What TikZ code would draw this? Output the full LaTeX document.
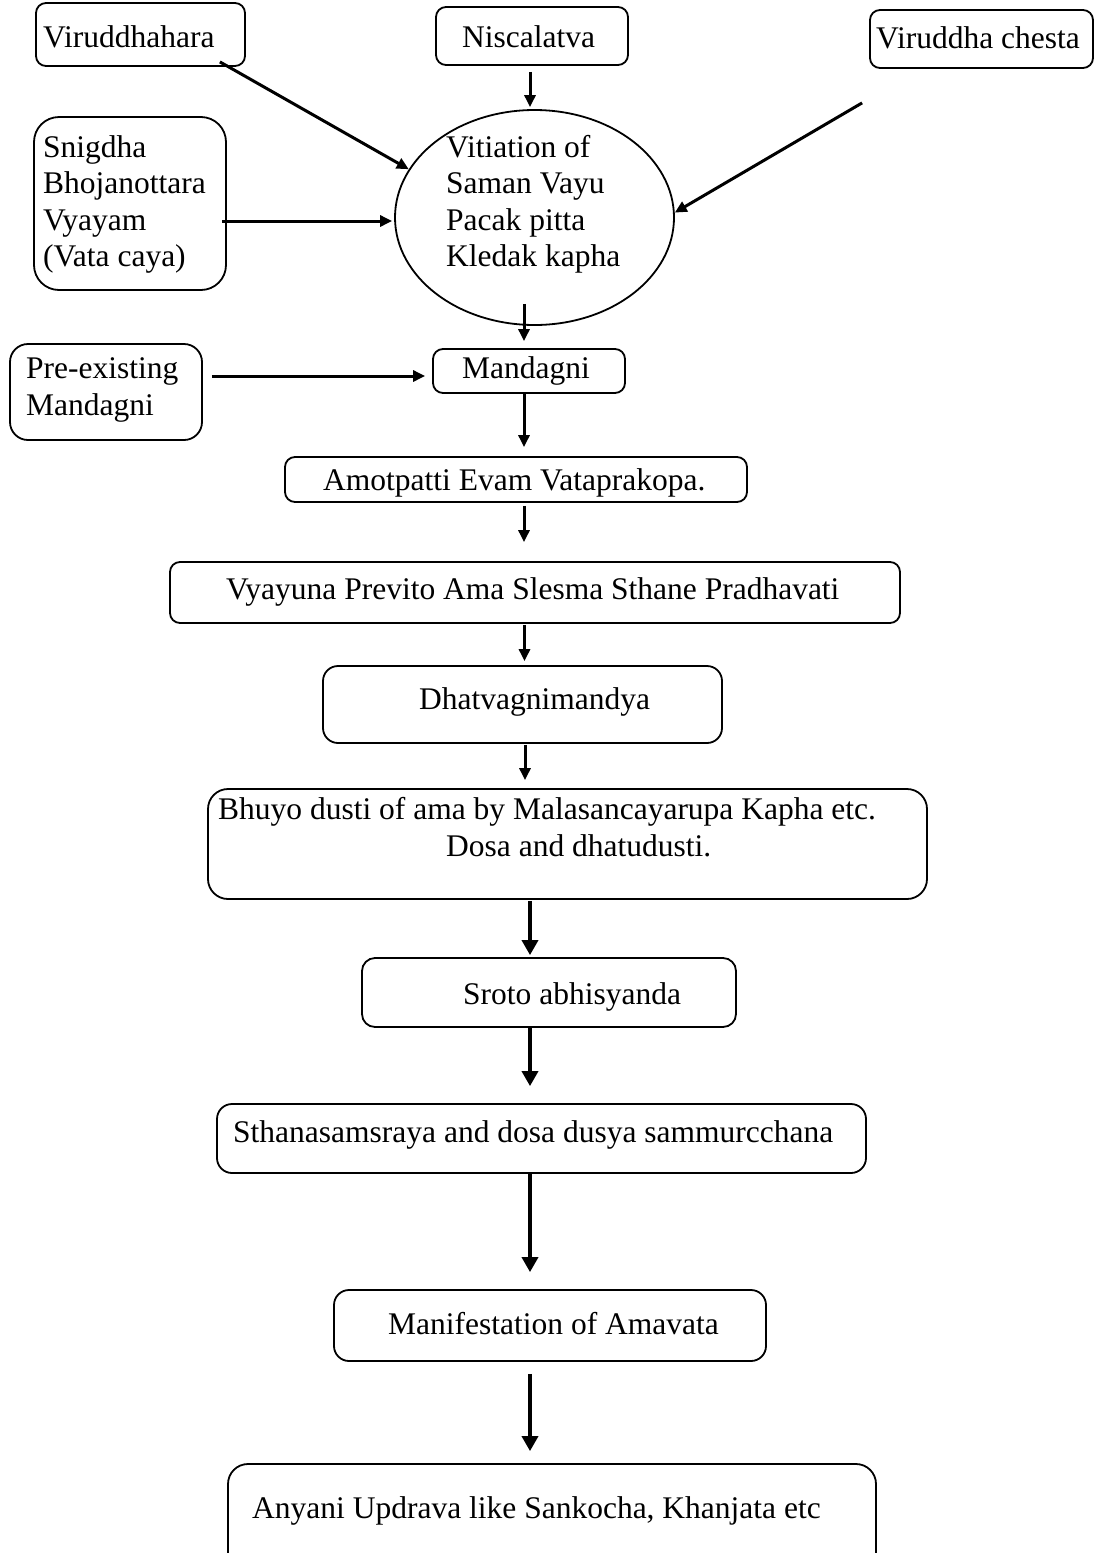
\documentclass[tikz,border=0pt]{standalone}
\usepackage{fontspec}
\setmainfont{Liberation Serif}
\usetikzlibrary{arrows.meta,shapes.geometric}
\begin{document}
\begin{tikzpicture}[x=1pt,y=-1pt,
  box/.style={draw,line width=1.8pt,rounded corners=10pt,inner sep=0pt},
  txt/.style={inner sep=0pt,anchor=base west,font=\fontsize{31.5}{37}\selectfont},
  arr/.style={line width=3pt,-{Triangle[length=12pt,width=11pt]}},
  bigarr/.style={line width=3.5pt,-{Triangle[length=15pt,width=16pt]}}]
\useasboundingbox (0,0) rectangle (1094,1553);
\clip (0,0) rectangle (1094,1553);
% boxes
\node[box,minimum width=209pt,minimum height=63pt] (vir) at (140.5,34.5) {};
\node[box,minimum width=192pt,minimum height=58pt] (nis) at (532,36) {};
\node[box,minimum width=223pt,minimum height=58pt] (vch) at (981.5,39) {};
\node[box,rounded corners=25pt,minimum width=192pt,minimum height=173pt] (sni) at (130,203.5) {};
\node[draw,ellipse,line width=1.8pt,inner sep=0pt,minimum width=279pt,minimum height=215pt] (ell) at (534.5,217.5) {};
\node[box,minimum width=192pt,minimum height=44pt] (man) at (529,371) {};
\node[box,rounded corners=18pt,minimum width=192pt,minimum height=96pt] (pre) at (106,392) {};
\node[box,minimum width=462pt,minimum height=45pt] (amo) at (516,479.5) {};
\node[box,minimum width=730pt,minimum height=61pt] (vya) at (535,592.5) {};
\node[box,rounded corners=15pt,minimum width=399pt,minimum height=77pt] (dha) at (522.5,704.5) {};
\node[box,rounded corners=20pt,minimum width=719pt,minimum height=110pt] (bhu) at (567.5,844) {};
\node[box,rounded corners=13pt,minimum width=374pt,minimum height=69pt] (sro) at (549,992.5) {};
\node[box,rounded corners=15pt,minimum width=649pt,minimum height=69pt] (sth) at (541.5,1138.5) {};
\node[box,rounded corners=15pt,minimum width=432pt,minimum height=71pt] (mnf) at (550,1325.5) {};
\node[box,rounded corners=20pt,minimum width=648pt,minimum height=186pt] (any) at (552,1557) {};
% texts
\node[txt] (virT) at (43,47) {Viruddhahara};
\node[txt] (nisT) at (462,47) {Niscalatva};
\node[txt] (vchT) at (876,48) {Viruddha chesta};
\node[txt] (sniT1) at (43,157) {Snigdha};
\node[txt] (sniT2) at (43,193.5) {Bhojanottara};
\node[txt] (sniT3) at (43,230) {Vyayam};
\node[txt] (sniT4) at (43,266.5) {(Vata caya)};
\node[txt] (ellT1) at (446,157) {Vitiation of};
\node[txt] (ellT2) at (446,193.5) {Saman Vayu};
\node[txt] (ellT3) at (446,230) {Pacak pitta};
\node[txt] (ellT4) at (446,266.5) {Kledak kapha};
\node[txt] (manT) at (462,378) {Mandagni};
\node[txt] (preT1) at (26,378) {Pre-existing};
\node[txt] (preT2) at (26,415) {Mandagni};
\node[txt] (amoT) at (323,490) {Amotpatti Evam Vataprakopa.};
\node[txt] (vyaT) at (226,599) {Vyayuna Previto Ama Slesma Sthane Pradhavati};
\node[txt] (dhaT) at (419,709) {Dhatvagnimandya};
\node[txt] (bhuT1) at (218,819) {Bhuyo dusti of ama by Malasancayarupa Kapha etc.};
\node[txt] (bhuT2) at (446,856) {Dosa and dhatudusti.};
\node[txt] (sroT) at (463,1004) {Sroto abhisyanda};
\node[txt] (sthT) at (233,1142) {Sthanasamsraya and dosa dusya sammurcchana};
\node[txt] (mnfT) at (388,1334) {Manifestation of Amavata};
\node[txt] (anyT) at (252,1518) {Anyani Updrava like Sankocha, Khanjata etc};
% connectors
\draw[arr] ([shift={(-26,-5)}]vir.south east) -- (ell.159.7);
\draw[arr] ([shift={(-2,6)}]nis.south) -- ([shift={(-4.5,-2)}]ell.north);
\draw[arr] ([shift={(-5,17.5)}]sni.east) -- ([shift={(-2,3.5)}]ell.west);
\draw[arr] ([shift={(-7,34)}]vch.south west) -- (ell.2.3);
\draw[arr] ([shift={(-10.5,-22)}]ell.south) -- ([shift={(-5,-7)}]man.north);
\draw[arr] ([shift={(9,-16)}]pre.east) -- ([shift={(-7,5)}]man.west);
\draw[arr] ([shift={(-5,0)}]man.south) -- ([shift={(8,-9)}]amo.north);
\draw[arr] ([shift={(8,3)}]amo.south) -- ([shift={(-11,-19)}]vya.north);
\draw[arr] ([shift={(-10.5,1)}]vya.south) -- ([shift={(2,-4)}]dha.north);
\draw[arr] ([shift={(2.5,1)}]dha.south) -- ([shift={(-42.5,-8)}]bhu.north);
\draw[bigarr] ([shift={(-37.5,1)}]bhu.south) -- ([shift={(-19,-2)}]sro.north);
\draw[bigarr] ([shift={(-19,0)}]sro.south) -- ([shift={(-11.5,-17)}]sth.north);
\draw[bigarr] ([shift={(-11.5,0)}]sth.south) -- ([shift={(-20,-17)}]mnf.north);
\draw[bigarr] ([shift={(-20,12)}]mnf.south) -- ([shift={(-22,-12)}]any.north);
\end{tikzpicture}
\end{document}
